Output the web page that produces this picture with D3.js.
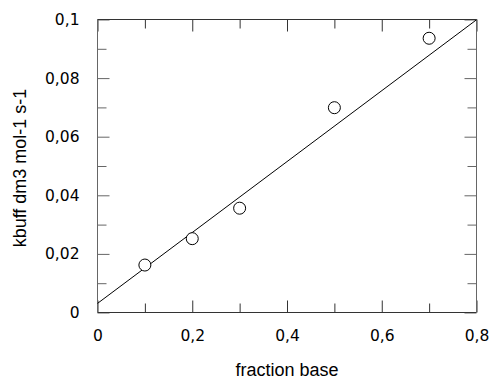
<!DOCTYPE html>
<html><head><meta charset="utf-8">
<script src="https://cdn.jsdelivr.net/npm/d3@7"></script>
<style>
html,body{margin:0;padding:0;background:#fff;}
svg{display:block;}
.tick text{font-family:"DejaVu Sans",sans-serif;font-size:15.5px;fill:#000;}
.title{font-family:"Liberation Sans",Arial,sans-serif;font-size:18px;fill:#000;}
</style></head>
<body>
<script>
// Data
const xValues = [0.1, 0.2, 0.3, 0.5, 0.7];
const yValues = [0.0162, 0.0252, 0.0356, 0.0699, 0.0936];
const fitX = [0, 0.8];
const fitY = [0.0031, 0.0999];
const xMajorTicks = [0, 0.2, 0.4, 0.6, 0.8];
const xTickLabels = ["0", "0,2", "0,4", "0,6", "0,8"];
const xMinorTicks = [0.1, 0.3, 0.5, 0.7];
const yMajorTicks = [0, 0.02, 0.04, 0.06, 0.08, 0.1];
const yTickLabels = ["0", "0,02", "0,04", "0,06", "0,08", "0,1"];
const yMinorTicks = [0.01, 0.03, 0.05, 0.07, 0.09];
const xTitle = "fraction base";
const yTitle = "kbuff dm3 mol-1 s-1";

const W = 491, H = 379;
const m = {left: 97.5, right: 14.5, top: 19.5, bottom: 66.5};
const svg = d3.select("body").append("svg").attr("width", W).attr("height", H);

const x = d3.scaleLinear().domain([0, 0.8]).range([m.left, W - m.right]);
const y = d3.scaleLinear().domain([0, 0.1]).range([H - m.bottom, m.top]);

const majorLen = 12, minorLen = 9;
function styleAxis(g, color) {
  g.select(".domain").remove();
  g.selectAll(".tick line").attr("stroke", color).attr("stroke-width", 1);
}
// bottom
const gb = svg.append("g").attr("transform", `translate(0,${y(0)})`)
  .call(d3.axisBottom(x).tickValues(xMajorTicks).tickSizeInner(-majorLen).tickSizeOuter(0).tickPadding(12 + 5)
    .tickFormat((d, i) => xTickLabels[i]));
styleAxis(gb, "#333");
gb.selectAll(".tick text").attr("dy", "0.71em");
const gbm = svg.append("g").attr("transform", `translate(0,${y(0)})`)
  .call(d3.axisBottom(x).tickValues(xMinorTicks).tickSizeInner(-minorLen).tickSizeOuter(0).tickFormat(""));
styleAxis(gbm, "#333");
// top
const gt = svg.append("g").attr("transform", `translate(0,${y(0.1)})`)
  .call(d3.axisTop(x).tickValues(xMajorTicks).tickSizeInner(-majorLen).tickSizeOuter(0).tickFormat(""));
styleAxis(gt, "#333");
const gtm = svg.append("g").attr("transform", `translate(0,${y(0.1)})`)
  .call(d3.axisTop(x).tickValues(xMinorTicks).tickSizeInner(-minorLen).tickSizeOuter(0).tickFormat(""));
styleAxis(gtm, "#333");
// left
const gl = svg.append("g").attr("transform", `translate(${x(0)},0)`)
  .call(d3.axisLeft(y).tickValues(yMajorTicks).tickSizeInner(-majorLen).tickSizeOuter(0).tickPadding(18)
    .tickFormat((d, i) => yTickLabels[i]));
styleAxis(gl, "#666");
const glm = svg.append("g").attr("transform", `translate(${x(0)},0)`)
  .call(d3.axisLeft(y).tickValues(yMinorTicks).tickSizeInner(-minorLen).tickSizeOuter(0).tickFormat(""));
styleAxis(glm, "#666");
// right
const gr = svg.append("g").attr("transform", `translate(${x(0.8)},0)`)
  .call(d3.axisRight(y).tickValues(yMajorTicks).tickSizeInner(-majorLen).tickSizeOuter(0).tickFormat(""));
styleAxis(gr, "#666");
const grm = svg.append("g").attr("transform", `translate(${x(0.8)},0)`)
  .call(d3.axisRight(y).tickValues(yMinorTicks).tickSizeInner(-minorLen).tickSizeOuter(0).tickFormat(""));
styleAxis(grm, "#666");

// frame
svg.append("line").attr("x1", x(0)).attr("x2", x(0.8)).attr("y1", y(0)).attr("y2", y(0)).attr("stroke", "#333");
svg.append("line").attr("x1", x(0)).attr("x2", x(0.8)).attr("y1", y(0.1)).attr("y2", y(0.1)).attr("stroke", "#333");
svg.append("line").attr("x1", x(0)).attr("x2", x(0)).attr("y1", y(0)).attr("y2", y(0.1)).attr("stroke", "#666");
svg.append("line").attr("x1", x(0.8)).attr("x2", x(0.8)).attr("y1", y(0)).attr("y2", y(0.1)).attr("stroke", "#666");

// fit line
const line = d3.line().x(d => x(d[0])).y(d => y(d[1]));
svg.append("path").datum(fitX.map((v, i) => [v, fitY[i]]))
  .attr("d", line).attr("fill", "none").attr("stroke", "#000").attr("stroke-width", 1);

// points
svg.append("g").selectAll("circle").data(xValues).join("circle")
  .attr("cx", d => x(d)).attr("cy", (d, i) => y(yValues[i])).attr("r", 6)
  .attr("fill", "#fff").attr("stroke", "#000").attr("stroke-width", 1);

// titles
svg.append("text").attr("class", "title").attr("x", (x(0) + x(0.8)) / 2).attr("y", 376)
  .attr("text-anchor", "middle").text(xTitle);
svg.append("text").attr("class", "title").attr("transform", `translate(26,168) rotate(-90)`)
  .attr("text-anchor", "middle").text(yTitle);
</script>
</body></html>
